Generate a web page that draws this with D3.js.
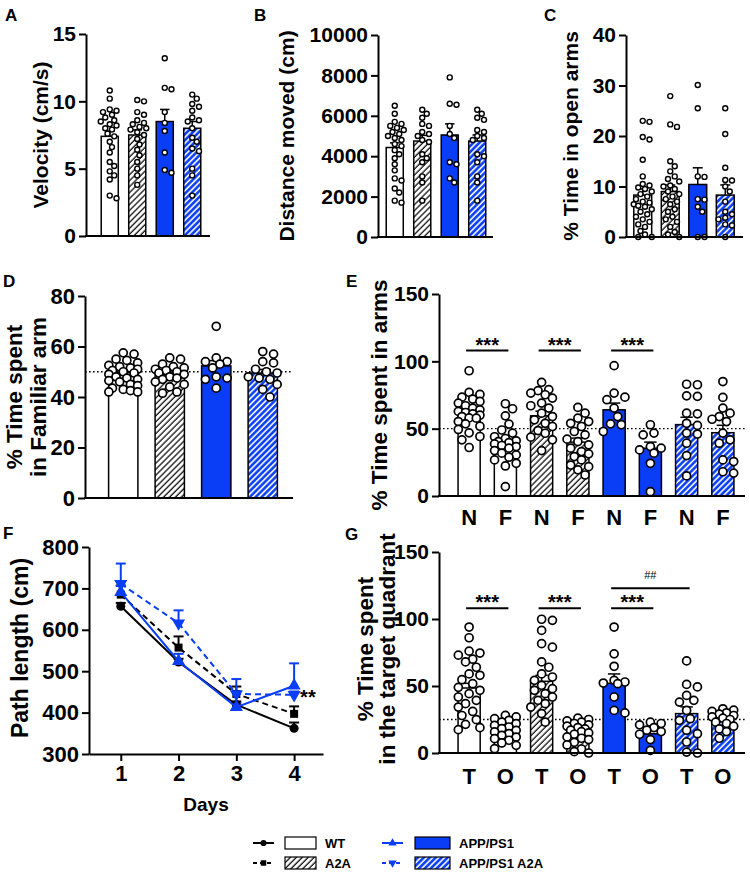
<!DOCTYPE html>
<html><head><meta charset="utf-8">
<script src="https://cdn.jsdelivr.net/npm/d3@7"></script>
<style>
body{margin:0;background:#fff;}
svg{font-family:"Liberation Sans",Arial,Helvetica,sans-serif;}
</style></head><body><svg id="c" width="750" height="876"></svg>
<script>
// ---------------- DATA ----------------
const groups = ["WT", "A2A", "APP/PS1", "APP/PS1 A2A"];

// A: velocity (cm/s)
const velocityMeans = [7.4, 7.5, 8.5, 8.0];
const velocitySem = [0.4, 0.38, 0.9, 0.5];
const velocityWT = [10.8,10.2,9.4,9.3,9.2,9.0,8.8,8.6,8.5,8.3,8.2,8.0,7.9,7.6,7.4,7.0,6.6,6.2,5.5,5.2,4.8,4.5,4.2,3.0,2.8];
const velocityA2A = [10.1,10.0,9.2,9.0,8.6,8.4,8.3,8.1,8.0,7.9,7.7,7.5,7.2,6.8,6.4,6.0,5.5,5.0,4.5,3.8];
const velocityAPP = [13.2,11.0,10.9,9.2,8.4,7.8,6.2,4.9,4.7];
const velocityAPPA2A = [10.5,10.2,9.8,9.6,9.3,8.8,8.6,8.5,8.0,7.3,7.0,6.5,6.3,5.0,4.5,3.0];
const velocityTicks = [0, 5, 10, 15];

// B: distance moved (cm)
const distanceMeans = [4430, 4750, 5050, 4750];
const distanceSem = [230, 280, 550, 300];
const distanceWT = [6500,6100,5700,5600,5500,5400,5300,5200,5100,5000,4900,4800,4600,4500,4300,4100,3900,3600,3300,2900,2800,2400,2200,1800,1700];
const distanceA2A = [6300,6100,5900,5600,5500,5200,5100,5000,4800,4700,4100,3900,3700,3000,2700,1800];
const distanceAPP = [7900,6600,6550,5500,5100,4900,3700,3600,2900,2700];
const distanceAPPA2A = [6300,6100,5900,5800,5300,5200,5000,4900,4800,4100,4000,3700,3000,2700,1800];
const distanceTicks = [0, 2000, 4000, 6000, 8000, 10000];

// C: % time in open arms
const openMeans = [8.3, 9.0, 10.4, 8.3];
const openSem = [1.2, 1.3, 3.3, 2.0];
const openWT = [23.0,22.8,19.8,19.3,15.3,12.0,10.5,10.2,9.8,9.5,9.0,8.5,8.0,7.5,7.0,6.8,6.5,6.2,6.0,5.5,5.0,4.5,4.0,3.5,3.0,2.5,2.0,1.2,0.5,0,0];
const openA2A = [27.9,22.3,21.8,15.0,14.0,13.0,12.0,11.5,11.0,10.2,10.0,9.5,9.0,8.5,8.0,7.5,7.0,6.5,5.5,5.0,4.0,3.5,3.0,2.0,1.0,0.5,0];
const openAPP = [30.1,25.5,12.0,11.9,7.5,7.4,6.0,5.0,0,0];
const openAPPA2A = [25.5,20.4,13.7,11.3,11.2,10.0,9.0,7.0,5.0,4.5,3.8,3.5,2.5,2.3,0];
const openTicks = [0, 10, 20, 30, 40];

// D: % time spent in familiar arm
const familiarMeans = [48.8, 49.0, 52.3, 49.5];
const familiarSem = [0.9, 0.9, 2.1, 1.4];
const familiarWT = [57.5,57.0,55.0,54.5,53.5,52.5,52.0,51.5,51.0,50.5,50.0,49.5,49.0,48.0,47.5,47.0,46.5,46.0,45.0,44.5,43.5,43.0,42.5,42.0,42.0];
const familiarA2A = [55.5,55.0,53.0,52.0,51.5,51.0,50.5,50.0,49.5,49.0,48.0,47.5,47.0,46.0,45.0,44.0,42.0,41.5];
const familiarAPP = [68.0,55.5,54.0,54.0,53.0,51.5,48.0,47.5,47.0,43.5];
const familiarAPPA2A = [58.0,57.0,54.0,53.5,51.0,50.0,49.5,48.0,47.5,47.0,45.0,43.0,40.0];
const familiarTicks = [0, 20, 40, 60, 80];

// E: % time spent in arms (N = novel, F = familiar)
const armsCats = ["N","F","N","F","N","F","N","F"];
const armsMeans = [61, 37, 59.5, 40, 64, 35.5, 53, 47];
const armsSem = [3, 3, 3.5, 3, 5, 4.5, 5.5, 5.5];
const armsNWT = [93,77,75.4,73.4,72,70.2,69,67,65.3,64,62.8,62,61,60,59,58,57.8,55.3,53.6,51.8,49.4,46.9,44.2,41.7,36];
const armsFWT = [68.5,64.8,59.5,53.4,49,46.7,44,42.7,41,40.4,39.7,38.7,37.5,36.7,35.5,33.7,31.8,30.5,28.8,26.8,24.3,22.3,7];
const armsNA2A = [84.4,79,78.2,76.4,75.2,72.7,69,67,65.3,61.5,59,56.6,54,51.6,48.6,46.6,43.7,41.7,33.7];
const armsFA2A = [65.8,61.5,57.8,55.3,54,51.6,47.9,45.4,42.2,40.4,38,35.5,33,31.3,29.3,26.8,23,21.8,19.4,15.6];
const armsNAPP = [96.8,76.4,73.4,71.5,65.3,59,53.6,52.9,47.9];
const armsFAPP = [52.9,46.7,45.4,36.7,35.5,34.2,31.8,24.3,3.2];
const armsNAPPA2A = [83,82.6,74.4,74,61.5,61,54,52.4,46.7,46,39.2,30,14.9];
const armsFAPPA2A = [85,73.2,65.3,61.5,59,57,55.3,46.7,41.7,39.2,26.8,25.6,18,17];
const armsTicks = [0, 50, 100, 150];

// F: path length (cm) over days
const days = [1, 2, 3, 4];
const pathWT = [657, 522, 419, 362];
const pathWTSem = [8, 8, 8, 14];
const pathA2A = [685, 557, 445, 397];
const pathA2ASem = [22, 27, 18, 18];
const pathAPP = [691, 524, 413, 465];
const pathAPPSem = [15, 18, 10, 54];
const pathAPPA2A = [711, 616, 445, 443];
const pathAPPA2ASem = [49, 31, 36, 8];
const pathTicks = [300, 400, 500, 600, 700, 800];

// G: % time spent in target quadrant (T = target, O = other)
const quadCats = ["T","O","T","O","T","O","T","O"];
const quadMeans = [48.5, 17, 53.5, 15.7, 52, 14.4, 29.4, 23.5];
const quadSem = [3.5, 1.5, 4.5, 1.5, 7, 2.5, 5, 2];
const quadTWT = [94,86,76,74.6,73,70,68,64,59,58,54.7,51.7,49,46.8,44.3,41.8,39.3,36.8,34.3,31,28,24.9,21.4,18.9,17.4];
const quadOWT = [28.1,26.9,25.6,24.4,23.1,21.9,20.6,19.4,18.2,16.9,15.7,14.4,13.2,11.9,10.7,9.5,7.5,5.7,3.2];
const quadTA2A = [99.8,99,91.5,81.6,79,68,64,59,56.7,54.2,50.5,48,46.8,44.3,41.8,39.3,36.8,34.3,29.4,23];
const quadOA2A = [26,25,24,23,22,21,20,19,18,17,16,15,14,12,11,10,8,6,3,1,0];
const quadTAPP = [94,74,64.7,54.2,53,52.2,51.7,41.8,31.8,29.9];
const quadOAPP = [23,22,21,19,17,16,14,10,2];
const quadTAPPA2A = [68.7,51.2,49.3,43,39.3,38,31.8,25.6,24.4,17,14.4,8.2,0.7,0];
const quadOAPPA2A = [33,32,31,30,29,28,27,26,25,23,22,20,18,16,11];
const quadTicks = [0, 50, 100, 150];

// ---------------- DRAWING ----------------
const BLUE = "#0a3ef6";
const svg = d3.select("#c");
const defs = svg.append("defs");
function hatch(id, bg, fg, sw) {
  const s = 4.2;
  const p = defs.append("pattern").attr("id", id).attr("patternUnits", "userSpaceOnUse")
    .attr("width", s).attr("height", s).attr("patternTransform", "rotate(45)");
  p.append("rect").attr("width", s).attr("height", s).attr("fill", bg);
  p.append("line").attr("x1", 1).attr("y1", -1).attr("x2", 1).attr("y2", s + 1)
    .attr("stroke", fg).attr("stroke-width", sw);
}
hatch("hK", "#fff", "#000", 1.2);
hatch("hB", BLUE, "#fff", 1.6);
const fills = ["#fff", "url(#hK)", BLUE, "url(#hB)"];

function swarm(vals, y, cx, r, maxOff) {
  const placed = [];
  const minD = 2 * r + 0.6;
  const step = r * 0.9;
  vals.slice().sort((a, b) => b - a).forEach(v => {
    const py = y(v);
    let best = null, bestScore = -1;
    for (let k = 0; k < 60; k++) {
      const off = k === 0 ? 0 : (k % 2 ? 1 : -1) * Math.ceil(k / 2) * step;
      if (Math.abs(off) > maxOff) break;
      const px = cx + off;
      let md = Infinity;
      placed.forEach(p => { md = Math.min(md, Math.hypot(p[0] - px, p[1] - py)); });
      if (md >= minD) { best = px; break; }
      if (md > bestScore) { bestScore = md; best = px; }
    }
    placed.push([best, py]);
  });
  return placed;
}

function styleAxis(g, fs) {
  g.select(".domain").attr("stroke", "#000").attr("stroke-width", 2);
  g.selectAll(".tick line").attr("stroke", "#000").attr("stroke-width", 2);
  g.selectAll(".tick text").attr("fill", "#000").attr("font-size", fs).attr("font-weight", "bold");
}

function yLabel(lines, xs, yMid, fs) {
  lines.forEach((t, i) => {
    svg.append("text").attr("transform", `translate(${xs[i]},${yMid}) rotate(-90)`)
      .attr("text-anchor", "middle").attr("font-size", fs).attr("font-weight", "bold").text(t);
  });
}

function panelLetter(t, x, y) {
  svg.append("text").attr("x", x).attr("y", y).attr("font-size", 17).attr("font-weight", "bold").text(t);
}

function barPanel(c) {
  const g = svg.append("g");
  const y = d3.scaleLinear().domain([0, c.max]).range([c.yBot, c.yTop]);
  const x = d3.scaleBand().domain(d3.range(c.means.length)).range(c.xr)
    .paddingInner(c.pad).paddingOuter(c.pad / 2);
  if (c.ref != null) {
    g.append("line").attr("x1", c.axisX).attr("x2", c.xEnd).attr("y1", y(c.ref)).attr("y2", y(c.ref))
      .attr("stroke", "#000").attr("stroke-width", 1.4).attr("stroke-dasharray", "1.6,2.4");
  }
  c.means.forEach((m, i) => {
    const gi = c.gIdx[i];
    g.append("rect").attr("x", x(i)).attr("y", y(m)).attr("width", x.bandwidth())
      .attr("height", y(0) - y(m)).attr("fill", fills[gi]).attr("stroke", "#000").attr("stroke-width", 1.5);
    const cx = x(i) + x.bandwidth() / 2, top = y(m + c.sem[i]), cw = x.bandwidth() * 0.28;
    g.append("line").attr("x1", cx).attr("x2", cx).attr("y1", y(m)).attr("y2", top).attr("stroke", "#000").attr("stroke-width", 1.5);
    g.append("line").attr("x1", cx - cw).attr("x2", cx + cw).attr("y1", top).attr("y2", top).attr("stroke", "#000").attr("stroke-width", 1.5);
  });
  c.dots.forEach((vals, i) => {
    const cx = x(i) + x.bandwidth() / 2;
    const pts = swarm(vals, y, cx, c.r, x.bandwidth() / 2 + c.r * 0.3);
    g.selectAll(null).data(pts).enter().append("circle")
      .attr("cx", d => d[0]).attr("cy", d => d[1]).attr("r", c.r)
      .attr("fill", "#fff").attr("stroke", "#000").attr("stroke-width", c.sw);
  });
  const ax = g.append("g").attr("transform", `translate(${c.axisX},0)`)
    .call(d3.axisLeft(y).tickValues(c.ticks).tickSize(7).tickSizeOuter(0).tickPadding(3).tickFormat(d3.format("d")));
  styleAxis(ax, c.fs);
  g.append("line").attr("x1", c.axisX - 1).attr("x2", c.xEnd).attr("y1", c.yBot).attr("y2", c.yBot)
    .attr("stroke", "#000").attr("stroke-width", 2);
  if (c.cats) {
    c.cats.forEach((t, i) => {
      g.append("text").attr("x", x(i) + x.bandwidth() / 2).attr("y", c.catY).attr("text-anchor", "middle")
        .attr("font-size", 22).attr("font-weight", "bold").text(t);
    });
  }
  if (c.sigs) {
    c.sigs.forEach(s => {
      const x1 = x(s.a) + x.bandwidth() / 2 - 3, x2 = x(s.b) + x.bandwidth() / 2 + 3, yy = y(s.v);
      g.append("line").attr("x1", x1).attr("x2", x2).attr("y1", yy).attr("y2", yy).attr("stroke", "#000").attr("stroke-width", 2);
      const bold = s.t.indexOf("*") >= 0;
      g.append("text").attr("x", (x1 + x2) / 2).attr("y", bold ? yy + 1 : yy - 9).attr("text-anchor", "middle")
        .attr("font-size", bold ? 20 : 11).attr("font-weight", bold ? "bold" : "normal").text(s.t);
    });
  }
  return { x, y };
}

// Panel A
panelLetter("A", 5, 21);
barPanel({ axisX: 86, xEnd: 210, yTop: 34, yBot: 236, max: 15, ticks: velocityTicks, fs: 21,
  xr: [96, 206], pad: 0.38, means: velocityMeans, sem: velocitySem, gIdx: [0,1,2,3],
  dots: [velocityWT, velocityA2A, velocityAPP, velocityAPPA2A], r: 2.5, sw: 1.4 });
yLabel(["Velocity (cm/s)"], [48], 135, 21);

// Panel B
panelLetter("B", 254, 21);
barPanel({ axisX: 378, xEnd: 493, yTop: 35, yBot: 237, max: 10000, ticks: distanceTicks, fs: 21,
  xr: [381, 491], pad: 0.38, means: distanceMeans, sem: distanceSem, gIdx: [0,1,2,3],
  dots: [distanceWT, distanceA2A, distanceAPP, distanceAPPA2A], r: 2.5, sw: 1.4 });
yLabel(["Distance moved (cm)"], [294], 136, 21);

// Panel C
panelLetter("C", 544, 21);
barPanel({ axisX: 626, xEnd: 743, yTop: 35, yBot: 237, max: 40, ticks: openTicks, fs: 21,
  xr: [629, 739], pad: 0.35, means: openMeans, sem: openSem, gIdx: [0,1,2,3],
  dots: [openWT, openA2A, openAPP, openAPPA2A], r: 2.5, sw: 1.4 });
yLabel(["% Time in open arms"], [578], 136, 21);

// Panel D
panelLetter("D", 3, 287);
barPanel({ axisX: 85, xEnd: 293, yTop: 296, yBot: 498, max: 80, ticks: familiarTicks, fs: 22,
  xr: [100, 286], pad: 0.37, means: familiarMeans, sem: familiarSem, gIdx: [0,1,2,3], ref: 50,
  dots: [familiarWT, familiarA2A, familiarAPP, familiarAPPA2A], r: 4, sw: 1.7 });
yLabel(["% Time spent", "in Familiar arm"], [22, 46], 397, 22.5);

// Panel E
panelLetter("E", 346, 287);
barPanel({ axisX: 439, xEnd: 745, yTop: 294, yBot: 496, max: 150, ticks: armsTicks, fs: 21,
  xr: [451, 741], pad: 0.39, means: armsMeans, sem: armsSem, gIdx: [0,0,1,1,2,2,3,3], ref: 50,
  dots: [armsNWT, armsFWT, armsNA2A, armsFA2A, armsNAPP, armsFAPP, armsNAPPA2A, armsFAPPA2A],
  r: 4, sw: 1.7, cats: armsCats, catY: 525,
  sigs: [{a:0,b:1,v:108,t:"***"},{a:2,b:3,v:108,t:"***"},{a:4,b:5,v:108,t:"***"}] });
yLabel(["% Time spent in arms"], [387], 395, 22.5);

// Panel G
panelLetter("G", 345, 540);
barPanel({ axisX: 439, xEnd: 745, yTop: 552, yBot: 753, max: 150, ticks: quadTicks, fs: 21,
  xr: [451, 741], pad: 0.39, means: quadMeans, sem: quadSem, gIdx: [0,0,1,1,2,2,3,3], ref: 25,
  dots: [quadTWT, quadOWT, quadTA2A, quadOA2A, quadTAPP, quadOAPP, quadTAPPA2A, quadOAPPA2A],
  r: 4, sw: 1.7, cats: quadCats, catY: 784,
  sigs: [{a:0,b:1,v:108,t:"***"},{a:2,b:3,v:108,t:"***"},{a:4,b:5,v:108,t:"***"},{a:4,b:6,v:123,t:"##"}] });
yLabel(["% Time spent", "in the target quadrant"], [373, 395], 649, 22.5);

// Panel F
panelLetter("F", 3, 539);
const xF = d3.scaleLinear().domain([0.45, 4.5]).range([89, 323]);
const yF = d3.scaleLinear().domain([300, 800]).range([754, 547]);
const series = [
  { v: pathWT, s: pathWTSem, col: "#000", dash: null, sym: d3.symbolCircle, rot: 0, size: 64 },
  { v: pathA2A, s: pathA2ASem, col: "#000", dash: "6,4", sym: d3.symbolSquare, rot: 0, size: 64 },
  { v: pathAPP, s: pathAPPSem, col: BLUE, dash: null, sym: d3.symbolTriangle, rot: 0, size: 75 },
  { v: pathAPPA2A, s: pathAPPA2ASem, col: BLUE, dash: "6,4", sym: d3.symbolTriangle, rot: 180, size: 75 }
];
const gF = svg.append("g");
series.forEach(se => {
  days.forEach((d, i) => {
    const cx = xF(d), y0 = yF(se.v[i]), y1 = yF(se.v[i] + se.s[i]);
    gF.append("line").attr("x1", cx).attr("x2", cx).attr("y1", y0).attr("y2", y1).attr("stroke", se.col).attr("stroke-width", 2);
    gF.append("line").attr("x1", cx - 5).attr("x2", cx + 5).attr("y1", y1).attr("y2", y1).attr("stroke", se.col).attr("stroke-width", 2);
  });
});
series.forEach(se => {
  gF.append("path").datum(days.map((d, i) => [xF(d), yF(se.v[i])]))
    .attr("d", d3.line()).attr("fill", "none").attr("stroke", se.col).attr("stroke-width", 2)
    .attr("stroke-dasharray", se.dash);
  days.forEach((d, i) => {
    gF.append("path").attr("d", d3.symbol().type(se.sym).size(se.size)())
      .attr("transform", `translate(${xF(d)},${yF(se.v[i])}) rotate(${se.rot})`).attr("fill", se.col);
  });
});
const axFy = gF.append("g").attr("transform", "translate(89,0)")
  .call(d3.axisLeft(yF).tickValues(pathTicks).tickSize(7).tickSizeOuter(0).tickPadding(3));
styleAxis(axFy, 22);
const axFx = gF.append("g").attr("transform", "translate(0,754)")
  .call(d3.axisBottom(xF).tickValues(days).tickSize(7).tickSizeOuter(0).tickPadding(4).tickFormat(d3.format("d")));
styleAxis(axFx, 22);
gF.append("text").attr("x", xF(4) + 6).attr("y", 704).attr("font-size", 20).attr("font-weight", "bold").text("**");
gF.append("text").attr("x", 206).attr("y", 811).attr("text-anchor", "middle").attr("font-size", 19).attr("font-weight", "bold").text("Days");
yLabel(["Path length (cm)"], [28], 648, 23);

// Legend
const legend = [
  { x: 253, y: 843, col: "#000", dash: null, sym: d3.symbolCircle, rot: 0, fill: fills[0], label: groups[0] },
  { x: 253, y: 863, col: "#000", dash: "4,3", sym: d3.symbolSquare, rot: 0, fill: fills[1], label: groups[1] },
  { x: 382, y: 843, col: BLUE, dash: null, sym: d3.symbolTriangle, rot: 0, fill: fills[2], label: groups[2] },
  { x: 382, y: 863, col: BLUE, dash: "4,3", sym: d3.symbolTriangle, rot: 180, fill: fills[3], label: groups[3] }
];
const gL = svg.append("g");
legend.forEach(l => {
  gL.append("line").attr("x1", l.x).attr("x2", l.x + 21).attr("y1", l.y).attr("y2", l.y)
    .attr("stroke", l.col).attr("stroke-width", 2).attr("stroke-dasharray", l.dash);
  gL.append("path").attr("d", d3.symbol().type(l.sym).size(30)())
    .attr("transform", `translate(${l.x + 10.5},${l.y}) rotate(${l.rot})`).attr("fill", l.col);
  const rx = l.x === 253 ? 285 : 415, rw = l.x === 253 ? 31 : 35;
  gL.append("rect").attr("x", rx).attr("y", l.y - 6).attr("width", rw).attr("height", 12)
    .attr("fill", l.fill).attr("stroke", "#000").attr("stroke-width", 1.2);
  gL.append("text").attr("x", rx + rw + 9).attr("y", l.y + 5).attr("font-size", 13).attr("font-weight", "bold").text(l.label);
});
</script></body></html>
